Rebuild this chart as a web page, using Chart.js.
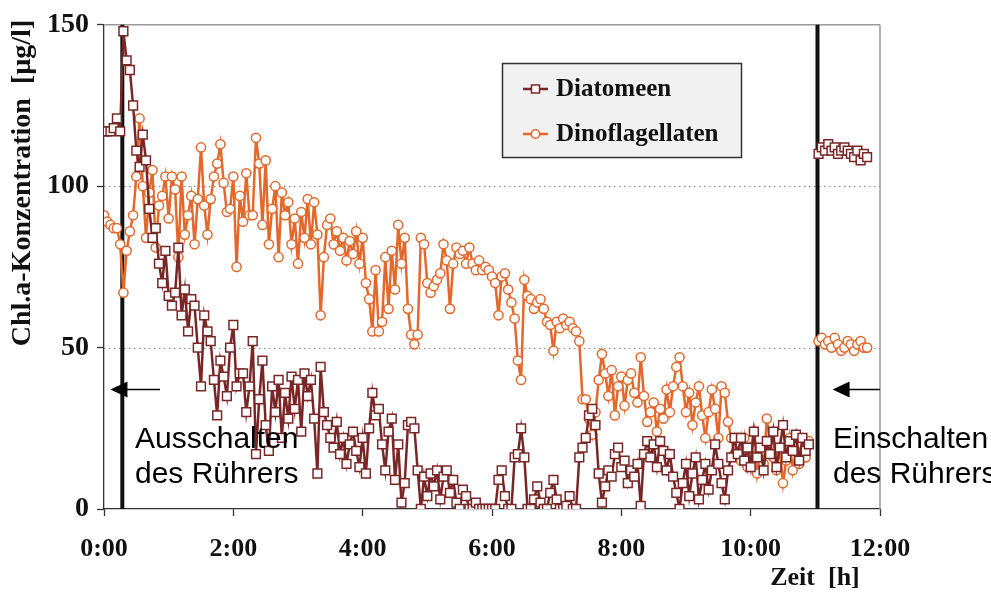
<!DOCTYPE html>
<html>
<head>
<meta charset="utf-8">
<script src="https://cdn.jsdelivr.net/npm/chart.js@4.4.0/dist/chart.umd.min.js"></script>
<style>
  html, body { margin: 0; padding: 0; background: #fff; }
  #wrap { width: 991px; height: 592px; }
</style>
</head>
<body>
<div id="wrap"><canvas id="chart" width="991" height="592"></canvas></div>
<script>
// Messwerte alle 3 min, 0:00 - 10:54 (Rührer aus ab 0:17)
const diatomeenA = [
  117, 117, 117, 118, 121, 117,
  148, 139, 136, 125, 111, 106, 116, 108,
  93, 84, 87, 76, 70, 80, 66, 63, 67, 81,
  60, 68, 55, 65, 63, 50, 38, 60, 55, 52,
  40, 29, 46, 41, 35, 50, 57, 38, 42, 42,
  30, 38, 52, 17, 34, 46, 26, 18, 38, 30,
  40, 22, 36, 28, 41, 31, 40, 24, 42, 35,
  40, 28, 11, 44, 30, 26, 22, 19, 27, 17,
  22, 14, 20, 24, 18, 13, 22, 11, 25, 36,
  29, 31, 20, 12, 24, 28, 9, 20, 2, 8,
  26, 27, 25, 12, 0, 10, 4, 11, 7, 12,
  3, 10, 12, 5, 9, 2, 0, 6, 4, 0,
  0, 2, 0, 0, 0, 0, 0, 0, 9, 12,
  4, 0, 0, 16, 17, 25, 16, 0, 0, 3,
  7, 2, 0, 0, 5, 9, 3, 0, 0, 1,
  4, 0, 0, 16, 19, 22, 29, 31, 26, 11,
  2, 7, 12, 10, 17, 19, 13, 15, 8, 12,
  10, 14, 1, 17, 21, 16, 20, 13, 21, 18,
  12, 17, 10, 5, 0, 8, 14, 4, 11, 16,
  3, 9, 14, 6, 12, 20, 14, 8, 3, 12,
  16, 22, 17, 22, 15, 19, 13, 24, 16, 19,
  12, 21, 17, 24, 13, 19, 26, 16, 21, 18,
  23, 15, 22, 18, 20
];
const dinoflagellatenA = [
  91, 89, 88, 87, 87, 82,
  67, 80, 86, 91, 103, 121, 100, 84,
  98, 105, 81, 94, 97, 103, 90, 103, 99, 78,
  103, 85, 91, 97, 82, 96, 112, 94, 85, 96,
  103, 107, 113, 101, 92, 93, 103, 75, 97, 89,
  104, 91, 91, 115, 107, 88, 108, 82, 93, 100,
  78, 98, 91, 95, 82, 90, 76, 92, 84, 96,
  82, 95, 85, 60, 78, 88, 90, 82, 86, 80,
  84, 77, 83, 79, 86, 76, 84, 70, 65, 55,
  74, 55, 58, 78, 62, 80, 68, 88, 76, 84,
  62, 54, 51, 54, 84, 82, 70, 67, 69, 71,
  73, 82, 77, 62, 76, 81, 79, 80, 76, 81,
  76, 74, 77, 74, 75, 74, 72, 70, 60, 72,
  73, 68, 64, 59, 46, 40, 71, 66, 65, 62,
  64, 65, 62, 58, 57, 49, 58, 56, 59, 57,
  58, 56, 55, 52, 34, 34, 28, 23, 30, 40,
  48, 42, 35, 43, 29, 38, 41, 32, 40, 42,
  36, 33, 47, 35, 27, 30, 33, 24, 31, 28,
  37, 30, 38, 44, 47, 38, 30, 36, 26, 33,
  38, 29, 22, 30, 37, 31, 22, 38, 36, 27,
  22, 17, 20, 15, 22, 13, 19, 24, 11, 18,
  14, 28, 20, 16, 12, 19, 8, 15, 22, 12,
  18, 14, 20, 16, 21
];
// nach Einschalten des Rührers, ab 11:03
const diatomeenB = [110, 112, 111, 113, 111, 112, 110, 111, 112, 111, 110, 109, 111, 108, 110, 109];
const dinoflagellatenB = [52, 53, 51, 52, 50, 53, 51, 49, 50, 52, 51, 49, 51, 52, 50, 50];

const STEP_MIN = 3;
const START_B_MIN = 663;
const stirrerOffMin = 17;
const stirrerOnMin = 662;

const xTickMinutes = [0, 120, 240, 360, 480, 600, 720];
const xTickLabels = ['0:00', '2:00', '4:00', '6:00', '8:00', '10:00', '12:00'];
const yTicks = [0, 50, 100, 150];
const yGrid = [50, 100];

const seriesNames = ['Diatomeen', 'Dinoflagellaten'];
const colDia = '#7a2626';
const colDino = '#e2682c';

const serif = "'Liberation Serif', 'Times New Roman', serif";
const sans = "'Liberation Sans', Arial, sans-serif";

const toPoints = (a, b) => {
  const pts = a.map((v, i) => ({ x: i * STEP_MIN, y: v }));
  pts.push({ x: (a.length * STEP_MIN + START_B_MIN) / 2, y: null });
  b.forEach((v, i) => pts.push({ x: START_B_MIN + i * STEP_MIN, y: v }));
  return pts;
};

const line = (ctx, x1, y1, x2, y2) => {
  ctx.beginPath(); ctx.moveTo(x1, y1); ctx.lineTo(x2, y2); ctx.stroke();
};

const arrow = (ctx, tailX, tipX, y) => {
  const dir = tipX < tailX ? 1 : -1;
  ctx.strokeStyle = '#000'; ctx.fillStyle = '#000'; ctx.lineWidth = 1.5;
  line(ctx, tailX, y, tipX + dir * 14, y);
  ctx.beginPath();
  ctx.moveTo(tipX, y);
  ctx.lineTo(tipX + dir * 17, y - 8);
  ctx.lineTo(tipX + dir * 17, y + 8);
  ctx.closePath();
  ctx.fill();
};

const overlay = {
  id: 'overlay',
  beforeDatasetsDraw(chart) {
    const { ctx, chartArea: a, scales: { x, y } } = chart;
    ctx.save();
    // gepunktete Gitterlinien
    ctx.strokeStyle = '#888'; ctx.lineWidth = 1; ctx.setLineDash([1.5, 3.5]);
    yGrid.forEach(v => {
      const py = Math.round(y.getPixelForValue(v)) + 0.5;
      line(ctx, a.left, py, a.right, py);
    });
    ctx.setLineDash([]);
    // Rahmen oben / rechts
    ctx.strokeStyle = '#9a9a9a'; ctx.lineWidth = 1.5;
    line(ctx, a.left, a.top, a.right, a.top);
    line(ctx, a.right, a.top, a.right, a.bottom);
    // Rührer aus / an
    ctx.strokeStyle = '#111'; ctx.lineWidth = 4;
    [stirrerOffMin, stirrerOnMin].forEach(t => {
      const px = x.getPixelForValue(t);
      line(ctx, px, a.top, px, a.bottom);
    });
    ctx.restore();
  },
  afterDatasetsDraw(chart) {
    const { ctx, chartArea: a, scales: { x, y } } = chart;
    ctx.save();

    // Pfeile + Beschriftung
    const ay = y.getPixelForValue(37);
    arrow(ctx, x.getPixelForValue(52), x.getPixelForValue(6), ay);
    arrow(ctx, a.right, x.getPixelForValue(676), ay);
    ctx.fillStyle = '#000';
    ctx.font = '30px ' + sans;
    ctx.textAlign = 'left'; ctx.textBaseline = 'alphabetic';
    ctx.fillText('Ausschalten', 135, 448);
    ctx.fillText('des Rührers', 135, 483);
    ctx.fillText('Einschalten', 833, 448);
    ctx.fillText('des Rührers', 833, 483);

    // Legende
    const lx = 502, ly = 63, lw = 239, lh = 94;
    ctx.fillStyle = '#f1f1f1';
    ctx.fillRect(lx, ly, lw, lh);
    ctx.strokeStyle = '#333'; ctx.lineWidth = 1.5;
    ctx.strokeRect(lx + 0.5, ly + 0.5, lw, lh);
    const items = [
      { name: seriesNames[0], col: colDia, style: 'rect', cy: 89 },
      { name: seriesNames[1], col: colDino, style: 'circle', cy: 134 }
    ];
    items.forEach(it => {
      ctx.strokeStyle = it.col; ctx.lineWidth = 2.5;
      line(ctx, lx + 21, it.cy, lx + 46, it.cy);
      ctx.fillStyle = '#fff'; ctx.lineWidth = 1.5;
      ctx.beginPath();
      if (it.style === 'rect') ctx.rect(lx + 29.5, it.cy - 4, 8, 8);
      else ctx.arc(lx + 33.5, it.cy, 4.2, 0, Math.PI * 2);
      ctx.fill(); ctx.stroke();
      ctx.fillStyle = '#111';
      ctx.font = 'bold 25px ' + serif;
      ctx.textAlign = 'left'; ctx.textBaseline = 'middle';
      ctx.fillText(it.name, lx + 54, it.cy + 1);
    });

    // Achsentitel
    ctx.fillStyle = '#111';
    ctx.font = 'bold 26px ' + serif;
    ctx.textAlign = 'center'; ctx.textBaseline = 'middle';
    ctx.fillText('Zeit  [h]', 815, 578);
    ctx.translate(23, 183);
    ctx.rotate(-Math.PI / 2);
    ctx.font = 'bold 28px ' + serif;
    ctx.fillText('Chl.a-Konzentration  [µg/l]', 0, 0);
    ctx.restore();
  }
};

const ctx = document.getElementById('chart').getContext('2d');
const chart = new Chart(ctx, {
  type: 'line',
  data: {
    datasets: [
      {
        label: seriesNames[0],
        data: toPoints(diatomeenA, diatomeenB),
        borderColor: colDia,
        borderWidth: 2.5,
        pointStyle: 'rect',
        pointRadius: 6.2,
        pointBorderWidth: 1.5,
        pointBackgroundColor: '#fff',
        pointBorderColor: colDia,
        tension: 0,
        spanGaps: false
      },
      {
        label: seriesNames[1],
        data: toPoints(dinoflagellatenA, dinoflagellatenB),
        borderColor: colDino,
        borderWidth: 2.5,
        pointStyle: 'circle',
        pointRadius: 4.6,
        pointBorderWidth: 1.5,
        pointBackgroundColor: '#fff',
        pointBorderColor: colDino,
        tension: 0,
        spanGaps: false
      }
    ]
  },
  options: {
    responsive: false,
    animation: false,
    layout: { padding: { left: 0, right: 111, top: 18, bottom: 0 } },
    plugins: { legend: { display: false }, tooltip: { enabled: false } },
    scales: {
      x: {
        type: 'linear',
        min: 0,
        max: 720,
        afterFit: s => { s.height = 83; },
        afterBuildTicks: s => { s.ticks = xTickMinutes.map(v => ({ value: v })); },
        ticks: {
          callback: (v, i) => xTickLabels[i],
          font: { family: serif, size: 26, weight: 'bold' },
          color: '#111',
          padding: 18,
          maxRotation: 0,
          autoSkip: false
        },
        grid: { drawOnChartArea: false, drawTicks: true, tickLength: 7, tickColor: '#333', tickWidth: 1.3 },
        border: { color: '#333', width: 1.3 }
      },
      y: {
        min: 0,
        max: 150,
        afterFit: s => { s.width = 104; },
        afterBuildTicks: s => { s.ticks = yTicks.map(v => ({ value: v })); },
        ticks: {
          font: { family: serif, size: 28, weight: 'bold' },
          color: '#111',
          padding: 8
        },
        grid: { drawOnChartArea: false, drawTicks: true, tickLength: 7, tickColor: '#333', tickWidth: 1.3 },
        border: { color: '#333', width: 1.3 }
      }
    }
  },
  plugins: [overlay]
});
</script>
</body>
</html>
